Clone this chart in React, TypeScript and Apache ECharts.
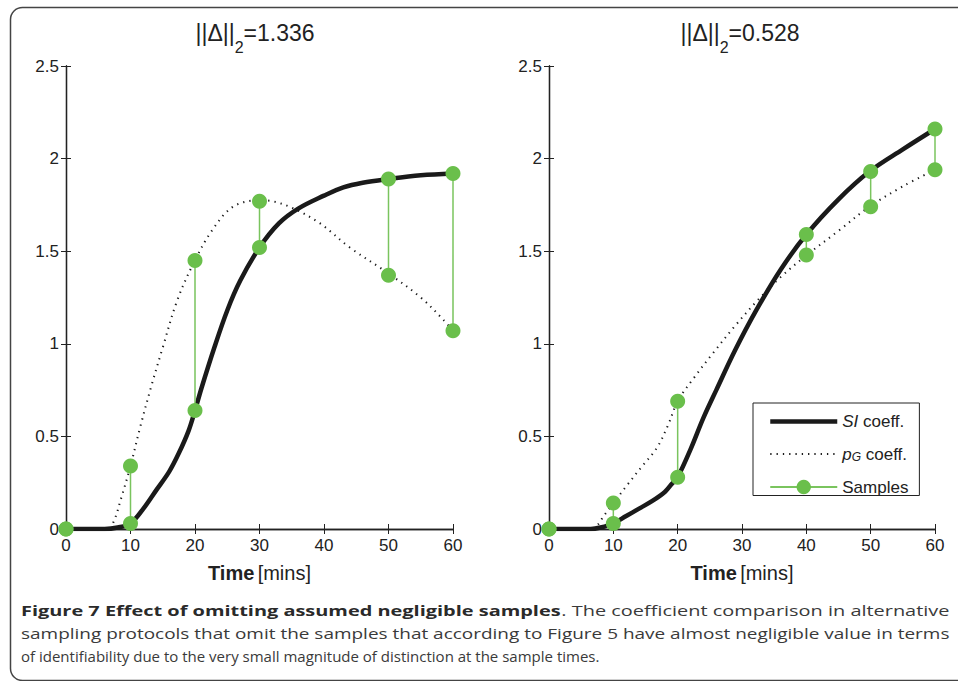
import React, { useEffect, useRef } from "react";
import * as echarts from "echarts";

// ---------- data ----------
const xTickValues = [0, 10, 20, 30, 40, 50, 60];
const yTickValues = [0, 0.5, 1, 1.5, 2, 2.5];

const panelTitles = ["1.336", "0.528"];

// Left panel curves
const leftSITime = [0, 6, 8, 10, 12, 14, 16, 17.5, 19, 20, 21, 23, 25, 27, 30, 33, 36, 40, 43, 46, 50, 55, 60];
const leftSIVal = [0, 0, 0.008, 0.03, 0.11, 0.21, 0.31, 0.41, 0.53, 0.64, 0.76, 0.98, 1.18, 1.34, 1.52, 1.65, 1.73, 1.8, 1.845, 1.87, 1.89, 1.91, 1.92];
const leftPGTime = [0, 6.5, 7.5, 8.5, 10, 11.5, 13.3, 15, 17.2, 19.7, 22.6, 25.9, 30, 32, 35.3, 39.4, 44, 50, 55, 58.5, 60];
const leftPGVal = [0, 0, 0.05, 0.16, 0.34, 0.55, 0.78, 0.98, 1.23, 1.43, 1.61, 1.74, 1.775, 1.77, 1.73, 1.65, 1.52, 1.38, 1.25, 1.13, 1.07];

// Left panel samples
const leftSampleTimes = [0, 10, 20, 30, 50, 60];
const leftSampleSI = [0, 0.03, 0.64, 1.52, 1.89, 1.92];
const leftSamplePG = [0, 0.34, 1.45, 1.77, 1.37, 1.07];

// Right panel curves
const rightSITime = [0, 6.5, 8, 10, 12, 14, 16, 18, 19, 20, 22, 24, 26, 29, 32.2, 36, 40, 45, 49.8, 55, 60];
const rightSIVal = [0, 0, 0.008, 0.03, 0.07, 0.11, 0.15, 0.2, 0.24, 0.28, 0.43, 0.6, 0.75, 0.97, 1.18, 1.4, 1.59, 1.78, 1.93, 2.05, 2.16];
const rightPGTime = [0, 6.5, 7.5, 8.5, 10, 12.1, 14.5, 16.8, 18.5, 20, 22.4, 25.5, 29, 32.3, 36, 40, 45, 49.8, 55, 60];
const rightPGVal = [0, 0, 0.02, 0.07, 0.14, 0.235, 0.34, 0.44, 0.56, 0.69, 0.81, 0.95, 1.1, 1.23, 1.36, 1.477, 1.61, 1.74, 1.85, 1.94];

// Right panel samples
const rightSampleTimes = [0, 10, 20, 40, 50, 60];
const rightSampleSI = [0, 0.03, 0.28, 1.59, 1.93, 2.16];
const rightSamplePG = [0, 0.14, 0.69, 1.48, 1.74, 1.94];

const captionLines = [
  ["Figure 7 Effect of omitting assumed negligible samples", ". The coefficient comparison in alternative"],
  ["", "sampling protocols that omit the samples that according to Figure 5 have almost negligible value in terms"],
  ["", "of identifiability due to the very small magnitude of distinction at the sample times."],
];

// ---------- helpers ----------
const zip = (t: number[], v: number[]) => t.map((x, i) => [x, v[i]]);
const samplePairs = (t: number[], a: number[], b: number[]) => {
  const out: any[] = [];
  t.forEach((x, i) => {
    out.push([x, a[i]]);
    out.push([x, b[i]]);
    out.push("-");
  });
  return out;
};

const AXIS_COLOR = "#222";
const GREEN = "#6abf4b";
const GREEN_LINE = "#7ac45e";
const FONT = "'Liberation Sans', Arial, sans-serif";
const CAP_FONT = "'Open Sans', sans-serif";
const CAP_SIZE = 15;

function measure(text: string, font: string) {
  const c = document.createElement("canvas").getContext("2d");
  if (!c) return text.length * 8;
  c.font = font;
  return c.measureText(text).width;
}

export default function App() {
  const ref = useRef<HTMLDivElement>(null);

  useEffect(() => {
    if (!ref.current) return;
    const chart = echarts.init(ref.current, undefined, { renderer: "svg" });

    const grids = [
      { left: 66, top: 66, width: 387, height: 463 },
      { left: 549, top: 66, width: 386, height: 463 },
    ];

    const xAxes: any[] = [];
    const yAxes: any[] = [];
    [0, 1].forEach((g) => {
      xAxes.push({
        type: "value",
        gridIndex: g,
        min: xTickValues[0],
        max: xTickValues[xTickValues.length - 1],
        interval: 10,
        position: "bottom",
        axisLine: { show: true, lineStyle: { color: AXIS_COLOR, width: 1.3 } },
        axisTick: { show: true, inside: true, length: 5, lineStyle: { color: AXIS_COLOR } },
        axisLabel: { color: "#222", fontSize: 17, fontFamily: FONT, margin: 8 },
        splitLine: { show: false },
        name: "{b|Time} {n|[mins]}",
        nameLocation: "middle",
        nameGap: 34,
        nameTextStyle: {
          rich: {
            b: { fontSize: 20, fontWeight: "bold", fontFamily: FONT, color: "#222" },
            n: { fontSize: 20, fontFamily: FONT, color: "#222" },
          },
        },
      });
      xAxes.push({
        type: "value",
        gridIndex: g,
        min: 0,
        max: 60,
        interval: 10,
        position: "top",
        axisLine: { show: true, lineStyle: { color: AXIS_COLOR, width: 1.3 } },
        axisTick: { show: true, inside: true, length: 5, lineStyle: { color: AXIS_COLOR } },
        axisLabel: { show: false },
        splitLine: { show: false },
      });
      yAxes.push({
        type: "value",
        gridIndex: g,
        min: yTickValues[0],
        max: yTickValues[yTickValues.length - 1],
        interval: 0.5,
        position: "left",
        axisLine: { show: true, lineStyle: { color: AXIS_COLOR, width: 1.3 } },
        axisTick: { show: true, inside: true, length: 5, lineStyle: { color: AXIS_COLOR } },
        axisLabel: { color: "#222", fontSize: 17, fontFamily: FONT, margin: 7 },
        splitLine: { show: false },
      });
      yAxes.push({
        type: "value",
        gridIndex: g,
        min: 0,
        max: 2.5,
        interval: 0.5,
        position: "right",
        axisLine: { show: true, lineStyle: { color: AXIS_COLOR, width: 1.3 } },
        axisTick: { show: true, inside: true, length: 5, lineStyle: { color: AXIS_COLOR } },
        axisLabel: { show: false },
        splitLine: { show: false },
      });
    });

    const panels = [
      { si: zip(leftSITime, leftSIVal), pg: zip(leftPGTime, leftPGVal), s: samplePairs(leftSampleTimes, leftSampleSI, leftSamplePG) },
      { si: zip(rightSITime, rightSIVal), pg: zip(rightPGTime, rightPGVal), s: samplePairs(rightSampleTimes, rightSampleSI, rightSamplePG) },
    ];

    const series: any[] = [];
    panels.forEach((p, g) => {
      series.push({
        name: "SI coeff.",
        type: "line",
        xAxisIndex: g * 2,
        yAxisIndex: g * 2,
        data: p.si,
        smooth: 0.35,
        symbol: "none",
        showSymbol: false,
        lineStyle: { color: "#1a1a1a", width: 4.5 },
        itemStyle: { color: "#1a1a1a" },
        z: 3,
      });
      series.push({
        name: "pG coeff.",
        type: "line",
        xAxisIndex: g * 2,
        yAxisIndex: g * 2,
        data: p.pg,
        smooth: 0.35,
        symbol: "none",
        showSymbol: false,
        lineStyle: { color: "#1a1a1a", width: 2, type: [1.3, 5] },
        itemStyle: { color: "#1a1a1a" },
        z: 2,
      });
      series.push({
        name: "Samples",
        type: "line",
        xAxisIndex: g * 2,
        yAxisIndex: g * 2,
        data: p.s,
        connectNulls: false,
        symbol: "circle",
        symbolSize: 15,
        showAllSymbol: true,
        lineStyle: { color: GREEN_LINE, width: 1.5 },
        itemStyle: { color: GREEN },
        z: 5,
      });
    });

    const graphics: any[] = [
      {
        type: "rect",
        shape: { x: 10.5, y: 7.5, width: 1000, height: 673, r: 12 },
        style: { fill: "none", stroke: "#444", lineWidth: 1.5 },
        silent: true,
        z: -10,
      },
    ];
    const titleCenters = [255, 740];
    panelTitles.forEach((t, i) => {
      graphics.push({
        type: "text",
        x: titleCenters[i],
        y: 33,
        style: {
          text: `{m|||\u0394||}{s|2}{m|=${t}}`,
          align: "center",
          verticalAlign: "middle",
          rich: {
            m: { fontSize: 23, fontFamily: FONT, fill: "#222", color: "#222" },
            s: { fontSize: 16, fontFamily: FONT, fill: "#222", color: "#222", padding: [28, 0, 0, 0] },
          },
        },
      });
    });

    const captionY = [610, 633, 656];
    const captionTargets = [929, 929, 579];
    captionLines.forEach((ln, i) => {
      const w =
        (ln[0] ? measure(ln[0], `bold ${CAP_SIZE}px ${CAP_FONT}`) : 0) +
        measure(ln[1], `${CAP_SIZE}px ${CAP_FONT}`);
      const sx = w > 0 ? captionTargets[i] / w : 1;
      const text = (ln[0] ? `{b|${ln[0]}}` : "") + `{r|${ln[1]}}`;
      graphics.push({
        type: "text",
        x: 21,
        y: captionY[i],
        scaleX: sx,
        style: {
          text,
          x: 0,
          y: 0,
          align: "left",
          verticalAlign: "middle",
          rich: {
            b: { fontSize: CAP_SIZE, fontWeight: "bold", fontFamily: CAP_FONT, fill: "#2a2a2a", color: "#2a2a2a" },
            r: { fontSize: CAP_SIZE, fontFamily: CAP_FONT, fill: "#3a3a3a", color: "#3a3a3a" },
          },
        },
      });
    });

    chart.setOption({
      animation: false,
      backgroundColor: "#fff",
      grid: grids,
      xAxis: xAxes,
      yAxis: yAxes,
      series,
      legend: {
        data: [
          { name: "SI coeff.", itemStyle: { opacity: 0 }, lineStyle: { width: 4.5 } },
          { name: "pG coeff.", itemStyle: { opacity: 0 } },
          { name: "Samples" },
        ],
        orient: "vertical",
        left: 753,
        top: 403,
        itemWidth: 67,
        itemHeight: 18,
        itemGap: 15.5,
        padding: [10, 11, 0, 15],
        borderColor: "#222",
        borderWidth: 1,
        backgroundColor: "#fff",
        selectedMode: false,
        formatter: (name: string) => {
          if (name === "SI coeff.") return "{i|SI}{r| coeff.}";
          if (name === "pG coeff.") return "{i|p}{s|G}{r| coeff.}";
          return "{r|Samples}";
        },
        textStyle: {
          rich: {
            i: { fontSize: 17, fontStyle: "italic", fontFamily: FONT, color: "#222" },
            s: { fontSize: 12, fontStyle: "italic", fontFamily: FONT, color: "#222", padding: [6, 0, 0, 0] },
            r: { fontSize: 17, fontFamily: FONT, color: "#222" },
          },
        },
      },
      graphic: graphics,
    });

    return () => chart.dispose();
  }, []);

  return (
    <div
      ref={ref}
      style={{ position: "fixed", left: 0, top: 0, width: 958, height: 681, background: "#fff" }}
    />
  );
}
